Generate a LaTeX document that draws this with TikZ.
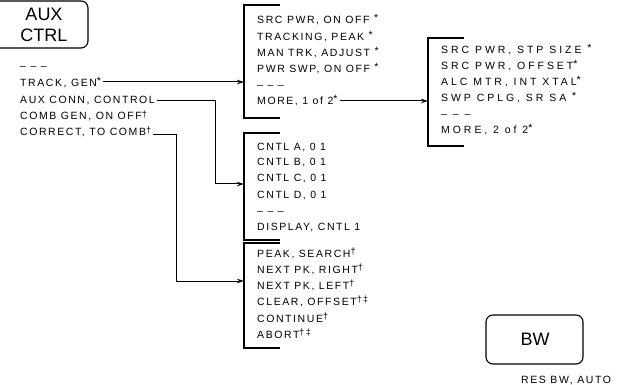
\documentclass[tikz,border=0pt]{standalone}
\usepackage{fontspec}
\setmainfont{Liberation Sans}
\newfontfamily\menufont[LetterSpace=15]{Liberation Sans}
\newfontfamily\widefont[LetterSpace=28]{Liberation Sans}
\usetikzlibrary{arrows.meta}
\tikzset{
  menu/.style={anchor=base west, inner sep=0pt, font=\menufont\fontsize{10.5}{10.5}\selectfont},
  widemenu/.style={menu, font=\widefont\fontsize{10.5}{10.5}\selectfont},
  bigkey/.style={inner sep=0pt, font=\fontsize{18}{18}\selectfont},
  keybox/.style={draw, line width=1.1pt, rounded corners=7pt},
  bracket/.style={draw, line width=1.3pt},
  conn/.style={draw, line width=1pt, -{Stealth[length=7pt,width=4.5pt]}},
}
\newcommand{\st}{\raisebox{2.5pt}{*}}
\newcommand{\dg}{\raisebox{2.5pt}{\fontsize{9}{9}\selectfont †}}
\newcommand{\ddg}{\raisebox{2.5pt}{\fontsize{9}{9}\selectfont †‡}}
\begin{document}
\begin{tikzpicture}[x=1pt,y=-1pt]
\useasboundingbox (0,0) rectangle (624,385);
\clip (0,0) rectangle (624,385);
% AUX CTRL key
\draw[keybox] (-12,1) rectangle (88,48);
\node[bigkey] (aux) at (44,14) {AUX};
\node[bigkey] (ctrl) at (44,35) {CTRL};
% left menu
\node[menu] (l0) at (20,70) {– – –};
\node[menu] (l1) at (20,87) {TRACK, GEN\st};
\node[menu] (l2) at (20,104) {AUX CONN, CONTROL};
\node[menu] (l3) at (20,120) {COMB GEN, ON OFF\dg};
\node[menu] (l4) at (20,136) {CORRECT, TO COMB\dg};
% box 1
\draw[bracket] (280,5) -- (244,5) -- (244,118) -- (280,118);
\node[menu] (a1) at (257,24) {SRC PWR, ON OFF \st};
\node[menu] (a2) at (257,41) {TRACKING, PEAK \st};
\node[menu] (a3) at (257,57) {MAN TRK, ADJUST \st};
\node[menu] (a4) at (257,73) {PWR SWP, ON OFF \st};
\node[menu] (a5) at (257,89) {– – –};
\node[menu] (a6) at (257,105) {MORE, 1 of 2\st};
% box 3
\draw[bracket] (464,38) -- (428,38) -- (428,146) -- (464,146);
\node[widemenu] (c1) at (441,54) {SRC PWR, STP SIZE \st};
\node[widemenu] (c2) at (441,70) {SRC PWR, OFFSET\st};
\node[widemenu] (c3) at (441,86) {ALC MTR, INT XTAL\st};
\node[widemenu] (c4) at (441,102) {SWP CPLG, SR SA \st};
\node[widemenu] (c5) at (441,118) {– – –};
\node[widemenu] (c6) at (441,134) {MORE, 2 of 2\st};
% box 2
\draw[bracket] (280,133) -- (244,133) -- (244,240) -- (280,240);
\node[menu] (b1) at (257,150) {CNTL A, 0 1};
\node[menu] (b2) at (257,166) {CNTL B, 0 1};
\node[menu] (b3) at (257,182) {CNTL C, 0 1};
\node[menu] (b4) at (257,198) {CNTL D, 0 1};
\node[menu] (b5) at (257,214) {– – –};
\node[menu] (b6) at (257,230) {DISPLAY, CNTL 1};
% box 4
\draw[bracket] (280,243) -- (244,243) -- (244,348) -- (280,348);
\node[menu] (d1) at (257,257) {PEAK, SEARCH\dg};
\node[menu] (d2) at (257,273) {NEXT PK, RIGHT\dg};
\node[menu] (d3) at (257,289) {NEXT PK, LEFT\dg};
\node[menu] (d4) at (257,305) {CLEAR, OFFSET\ddg};
\node[menu] (d5) at (257,322) {CONTINUE\dg};
\node[menu] (d6) at (257,338) {ABORT\ddg};
% BW key
\draw[keybox] (486,315) rectangle (583,364);
\node[bigkey] (bw) at (535,339) {BW};
\node[menu] (res) at (521,383) {RES BW, AUTO};
% connector coordinates
\coordinate (in1) at (244,82);
\coordinate (in2) at (244,184);
\coordinate (in4) at (244,281);
\coordinate (in3) at (428,101);
\coordinate (s1) at ([xshift=2pt]l1.east |- 0,82);
\coordinate (s2) at ([xshift=2pt]l2.east |- 0,101);
\coordinate (s4) at ([xshift=2pt]l4.east |- 0,135);
\coordinate (s3) at ([xshift=2pt]a6.east |- 0,101);
\coordinate (k2) at (215,101);
\coordinate (k4) at (176,135);
\draw[conn] (s1) -- (in1);
\draw[conn] (s2) -- (k2) |- (in2);
\draw[conn] (s4) -- (k4) |- (in4);
\draw[conn] (s3) -- (in3);
\end{tikzpicture}
\end{document}
